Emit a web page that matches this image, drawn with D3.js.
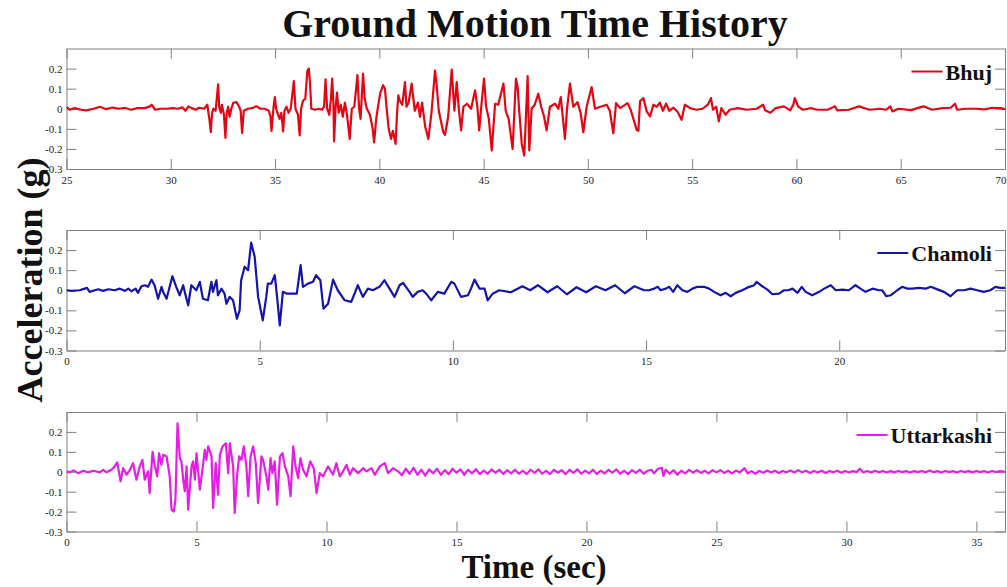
<!DOCTYPE html>
<html>
<head>
<meta charset="utf-8">
<script src="https://cdn.jsdelivr.net/npm/d3@7"></script>
<style>
  body { margin: 0; background: #fff; }
  svg text { font-family: "Liberation Serif", "Times New Roman", serif !important; }
</style>
</head>
<body>
<div id="chart"></div>
<script>
// ground motion records, [time (sec), acceleration (g)]
var bhuj = [
  [25.0,0.01],[25.15,-0.005],[25.4,0.003],[25.7,-0.005],[25.95,-0.008],[26.3,0.0],[26.6,0.01],[26.9,-0.002],
  [27.2,0.006],[27.5,0.0],[27.8,0.004],[28.1,-0.005],[28.4,0.003],[28.75,0.003],[29.0,0.012],[29.08,0.02],
  [29.25,-0.005],[29.5,0.0],[29.8,0.0],[30.1,0.003],[30.35,0.0],[30.55,0.007],[30.7,-0.01],[30.85,0.012],
  [31.0,0.003],[31.2,-0.005],[31.35,0.005],[31.6,0.0],[31.75,0.02],[31.85,-0.05],[31.92,-0.117],[31.98,-0.02],
  [32.05,0.0],[32.15,-0.01],[32.27,0.122],[32.32,0.01],[32.4,-0.02],[32.45,0.02],[32.55,-0.03],[32.62,-0.145],
  [32.68,-0.02],[32.75,0.01],[32.82,-0.04],[32.9,0.0],[33.0,0.03],[33.15,0.033],[33.28,0.01],[33.35,-0.01],
  [33.42,-0.12],[33.5,-0.01],[33.7,0.0],[33.9,0.003],[34.1,0.013],[34.3,0.0],[34.5,0.0],[34.7,-0.01],
  [34.78,-0.04],[34.83,-0.11],[34.92,0.0],[34.99,0.058],[35.05,0.0],[35.15,-0.03],[35.22,-0.05],[35.3,-0.02],
  [35.39,-0.113],[35.45,-0.01],[35.55,0.01],[35.65,-0.02],[35.75,0.0],[35.9,0.138],[35.98,0.0],[36.1,-0.03],
  [36.18,-0.133],[36.25,0.0],[36.34,0.04],[36.45,0.05],[36.55,0.19],[36.62,0.2],[36.68,0.12],[36.74,0.0],
  [36.9,-0.005],[37.1,0.0],[37.25,-0.005],[37.35,0.01],[37.42,0.147],[37.5,0.0],[37.6,-0.03],[37.68,0.05],
  [37.74,0.15],[37.8,0.02],[37.83,-0.163],[37.9,0.0],[37.97,0.08],[38.05,-0.02],[38.15,0.02],[38.25,-0.04],
  [38.35,0.03],[38.45,-0.03],[38.58,-0.15],[38.68,0.0],[38.8,0.01],[38.95,0.167],[39.03,0.0],[39.1,-0.05],
  [39.22,0.175],[39.3,0.05],[39.4,0.0],[39.55,-0.03],[39.68,-0.1],[39.75,-0.167],[39.85,-0.05],[39.95,0.02],
  [40.05,0.08],[40.18,0.117],[40.27,0.1],[40.35,0.0],[40.45,-0.1],[40.56,-0.15],[40.65,-0.11],[40.78,-0.175],
  [40.85,-0.02],[40.91,0.067],[40.98,0.04],[41.1,0.02],[41.23,0.133],[41.3,0.01],[41.4,0.03],[41.55,0.125],
  [41.7,-0.01],[41.85,0.03],[41.95,-0.04],[42.05,0.03],[42.2,-0.09],[42.35,-0.15],[42.5,-0.02],[42.67,0.19],
  [42.73,0.14],[42.85,-0.01],[42.95,-0.06],[43.07,-0.117],[43.15,-0.13],[43.3,-0.04],[43.47,0.195],[43.6,-0.01],
  [43.71,0.133],[43.82,-0.01],[43.92,-0.108],[44.03,0.01],[44.2,0.025],[44.4,0.0],[44.59,0.092],[44.7,0.01],
  [44.79,-0.108],[44.9,0.025],[45.02,0.15],[45.12,0.01],[45.25,-0.05],[45.39,-0.208],[45.55,0.025],[45.7,0.02],
  [45.95,0.125],[46.06,-0.01],[46.2,-0.05],[46.39,-0.2],[46.55,0.15],[46.63,0.11],[46.7,0.0],[46.83,-0.175],
  [46.95,-0.233],[47.11,0.162],[47.19,-0.208],[47.3,0.0],[47.45,0.02],[47.62,0.075],[47.76,0.01],[47.9,-0.04],
  [48.02,-0.108],[48.18,0.01],[48.42,0.025],[48.58,0.0],[48.7,0.058],[48.9,-0.15],[49.0,0.0],[49.14,0.125],
  [49.3,0.01],[49.5,0.033],[49.65,-0.02],[49.78,-0.117],[49.94,0.01],[50.18,0.108],[50.34,0.0],[50.6,0.01],
  [50.9,0.02],[51.05,-0.01],[51.22,-0.122],[51.35,0.028],[51.55,0.003],[51.9,0.028],[52.05,-0.005],[52.34,-0.105],
  [52.42,-0.11],[52.5,0.037],[52.66,0.053],[52.82,-0.013],[52.98,-0.038],[53.14,0.02],[53.3,0.01],[53.45,0.03],
  [53.6,-0.01],[53.75,0.025],[53.9,-0.01],[54.1,0.005],[54.3,-0.015],[54.49,-0.055],[54.65,0.02],[54.9,0.003],
  [55.2,-0.005],[55.5,0.0],[55.75,0.02],[55.9,0.053],[56.0,-0.005],[56.15,0.01],[56.28,-0.063],[56.4,0.003],
  [56.6,-0.03],[56.8,-0.005],[57.2,0.003],[57.6,-0.005],[58.1,0.0],[58.4,0.02],[58.5,-0.008],[58.75,-0.02],
  [59.0,0.003],[59.4,0.012],[59.7,-0.008],[59.85,0.02],[59.92,0.053],[60.08,0.012],[60.3,-0.005],[60.7,0.003],
  [61.0,-0.005],[61.5,-0.005],[61.85,0.012],[61.95,-0.008],[62.5,-0.005],[63.0,0.012],[63.5,-0.005],[64.0,0.0],
  [64.3,-0.005],[64.5,0.012],[64.6,-0.013],[64.9,0.0],[65.5,-0.007],[65.8,0.003],[66.1,0.012],[66.5,-0.005],
  [67.0,0.003],[67.4,0.005],[67.6,0.025],[67.7,-0.005],[68.1,0.0],[68.6,0.0],[69.0,-0.003],[69.4,0.005],
  [69.8,0.003],[70.0,-0.002]
];

var chamoli = [
  [0,0.0],[0.13,-0.003],[0.34,0.0],[0.47,0.008],[0.53,0.012],[0.6,-0.008],[0.73,0.0],[0.82,0.005],
  [0.95,-0.003],[1.08,0.005],[1.25,0.0],[1.38,0.008],[1.51,-0.003],[1.6,0.008],[1.68,-0.005],[1.79,0.008],
  [1.85,-0.013],[1.94,0.02],[2.03,0.025],[2.11,0.017],[2.2,0.053],[2.28,0.025],[2.37,-0.042],[2.46,0.017],
  [2.5,-0.008],[2.59,-0.042],[2.74,0.07],[2.84,0.017],[2.93,-0.025],[3.02,0.025],[3.06,-0.008],[3.15,-0.075],
  [3.23,0.025],[3.36,0.0],[3.45,0.042],[3.53,-0.042],[3.66,-0.05],[3.75,0.042],[3.79,-0.008],[3.88,0.05],
  [3.92,-0.025],[4.01,0.008],[4.09,-0.017],[4.14,-0.067],[4.22,-0.033],[4.31,-0.05],[4.41,-0.142],[4.48,-0.1],
  [4.52,0.05],[4.61,0.117],[4.7,0.1],[4.78,0.237],[4.87,0.167],[4.96,-0.033],[5.08,-0.15],[5.17,-0.033],
  [5.21,0.033],[5.3,0.033],[5.39,0.075],[5.45,-0.033],[5.52,-0.175],[5.6,-0.008],[5.71,-0.017],[5.86,-0.017],
  [5.96,-0.017],[6.06,0.125],[6.12,0.017],[6.25,0.033],[6.38,0.042],[6.46,0.075],[6.57,0.05],[6.65,-0.092],
  [6.77,-0.067],[6.9,0.053],[7.02,0.0],[7.2,-0.05],[7.37,-0.058],[7.54,0.025],[7.67,-0.033],[7.8,0.008],
  [7.93,0.0],[8.1,0.017],[8.23,0.05],[8.36,0.008],[8.49,-0.033],[8.62,0.025],[8.71,0.037],[8.88,-0.008],
  [8.96,-0.033],[9.09,-0.008],[9.22,0.0],[9.31,-0.017],[9.44,-0.05],[9.61,-0.008],[9.78,-0.017],[9.96,0.042],
  [10.04,0.033],[10.21,-0.033],[10.39,-0.025],[10.47,0.008],[10.56,0.053],[10.69,0.008],[10.82,0.008],[10.9,-0.05],
  [11.03,-0.017],[11.2,0.0],[11.5,-0.01],[11.8,0.02],[12.0,0.0],[12.2,0.025],[12.45,-0.01],[12.7,0.02],
  [12.95,-0.02],[13.2,0.015],[13.45,-0.01],[13.7,0.02],[13.95,0.0],[14.2,0.025],[14.45,-0.015],[14.7,0.02],
  [14.95,0.0],[15.08,0.0],[15.21,0.008],[15.3,0.017],[15.38,0.0],[15.51,0.008],[15.6,0.017],[15.7,-0.008],
  [15.81,0.025],[15.94,0.0],[16.07,-0.008],[16.2,0.008],[16.33,0.017],[16.5,0.017],[16.63,0.008],[16.76,-0.008],
  [16.93,-0.025],[17.06,-0.013],[17.19,-0.03],[17.32,-0.013],[17.49,0.0],[17.67,0.017],[17.8,0.025],[17.86,0.042],
  [17.97,0.025],[18.14,0.003],[18.27,-0.02],[18.44,-0.017],[18.57,0.0],[18.68,0.0],[18.79,0.008],[18.92,-0.013],
  [19.03,0.017],[19.13,-0.008],[19.3,-0.025],[19.48,-0.008],[19.61,0.008],[19.78,0.025],[19.91,0.0],[20.08,0.003],
  [20.25,0.0],[20.42,0.025],[20.55,0.008],[20.68,-0.008],[20.86,0.008],[21.03,0.0],[21.11,0.0],[21.22,-0.03],
  [21.33,-0.025],[21.5,0.0],[21.63,0.017],[21.76,0.008],[21.89,0.008],[22.06,0.012],[22.24,0.008],[22.37,0.017],
  [22.49,0.008],[22.71,-0.008],[22.88,-0.03],[23.05,0.0],[23.23,0.0],[23.4,0.008],[23.57,0.0],[23.74,-0.008],
  [23.91,0.0],[24.04,0.017],[24.17,0.012],[24.29,0.012]
];

var uttarkashi = [
  [0,0.002],[0.13,-0.003],[0.26,0.007],[0.45,-0.007],[0.64,0.005],[0.83,-0.003],[1.03,0.005],[1.28,-0.003],
  [1.41,0.01],[1.54,-0.003],[1.73,0.01],[1.86,0.027],[1.95,0.047],[2.08,-0.048],[2.18,0.018],[2.31,-0.015],
  [2.44,0.01],[2.56,0.043],[2.69,-0.04],[2.82,0.027],[2.92,0.06],[3.01,-0.04],[3.14,0.002],[3.2,-0.107],
  [3.31,0.1],[3.4,0.027],[3.49,-0.023],[3.56,0.093],[3.65,0.035],[3.72,0.085],[3.85,0.077],[3.97,-0.023],
  [4.04,-0.19],[4.13,-0.2],[4.19,-0.14],[4.27,0.243],[4.36,0.068],[4.42,0.052],[4.49,-0.04],[4.55,-0.098],
  [4.62,0.027],[4.68,-0.19],[4.81,0.027],[4.87,0.052],[4.94,-0.04],[5.0,0.093],[5.13,-0.09],[5.26,0.043],
  [5.32,0.11],[5.38,0.06],[5.45,0.127],[5.58,0.077],[5.64,-0.182],[5.74,0.043],[5.83,-0.115],[5.9,0.085],
  [6.0,0.127],[6.13,0.143],[6.22,-0.007],[6.28,0.143],[6.41,0.027],[6.47,-0.207],[6.56,-0.023],[6.64,0.077],
  [6.73,0.06],[6.82,0.127],[6.92,0.027],[6.99,-0.123],[7.08,0.077],[7.18,0.127],[7.28,0.043],[7.37,-0.157],
  [7.5,0.077],[7.56,0.06],[7.69,-0.023],[7.76,-0.09],[7.85,0.068],[7.92,-0.007],[8.01,0.052],[8.1,-0.165],
  [8.21,0.077],[8.31,0.093],[8.4,0.027],[8.53,-0.023],[8.62,-0.123],[8.72,0.127],[8.81,0.027],[8.91,-0.032],
  [9.0,0.068],[9.1,0.01],[9.23,-0.023],[9.38,0.052],[9.51,0.018],[9.62,-0.107],[9.74,-0.007],[9.87,-0.023],
  [10.06,0.027],[10.25,-0.015],[10.38,0.043],[10.51,-0.023],[10.64,0.002],[10.77,0.035],[10.9,-0.015],[11.02,0.018],
  [11.22,-0.007],[11.41,0.018],[11.54,0.002],[11.73,0.018],[11.86,-0.015],[12.05,0.027],[12.24,0.043],[12.37,-0.007],
  [12.56,0.018],[12.75,0.002],[12.9,-0.018],[13.05,0.015],[13.2,-0.01],[13.35,0.02],[13.5,-0.015],[13.65,0.01],
  [13.8,-0.02],[13.95,0.012],[14.1,-0.008],[14.25,0.015],[14.4,-0.015],[14.55,0.008],[14.7,-0.012],[14.85,0.015],
  [15.0,-0.005],[15.15,0.012],[15.3,-0.015],[15.45,0.01],[15.6,-0.008],[15.75,0.013],[15.9,-0.012],[16.05,0.006],
  [16.2,-0.01],[16.35,0.012],[16.5,-0.005],[16.65,0.01],[16.8,-0.012],[16.95,0.008],[17.1,-0.008],[17.25,0.01],
  [17.4,-0.01],[17.55,0.005],[17.7,-0.012],[17.85,0.01],[18.0,-0.006],[18.15,0.012],[18.3,-0.01],[18.45,0.005],
  [18.6,-0.012],[18.75,0.01],[18.9,-0.005],[19.05,0.008],[19.2,-0.012],[19.35,0.01],[19.5,-0.006],[19.65,0.012],
  [19.8,-0.01],[19.95,0.006],[20.1,-0.008],[20.25,0.01],[20.4,-0.012],[20.55,0.006],[20.7,-0.008],[20.85,0.01],
  [21.0,-0.005],[21.15,0.012],[21.3,-0.01],[21.45,0.005],[21.6,-0.012],[21.75,0.008],[21.9,-0.006],[22.05,0.01],
  [22.2,-0.01],[22.35,0.005],[22.5,0.01],[22.6,-0.008],[22.75,0.015],[22.9,0.02],[22.96,-0.02],[23.05,0.01],
  [23.2,-0.01],[23.35,0.008],[23.5,-0.015],[23.65,0.005],[23.8,-0.008],[23.95,0.01],[24.1,-0.005],[24.25,0.008],
  [24.4,-0.006],[24.55,0.005],[24.7,-0.008],[24.85,0.008],[25.0,-0.003],[25.15,0.008],[25.3,-0.006],[25.45,0.005],
  [25.6,-0.008],[25.75,0.006],[25.9,-0.004],[26.08,0.018],[26.2,-0.008],[26.35,0.003],[26.5,-0.01],[26.65,0.004],
  [26.8,-0.005],[26.95,0.006],[27.1,-0.004],[27.25,0.005],[27.4,-0.006],[27.55,0.004],[27.7,-0.003],[27.85,0.006],
  [28.0,-0.004],[28.15,0.008],[28.3,-0.003],[28.45,0.005],[28.6,-0.006],[28.75,0.004],[28.9,-0.004],[29.05,0.005],
  [29.2,-0.006],[29.35,0.004],[29.5,-0.003],[29.65,0.005],[29.8,-0.005],[29.95,0.004],[30.1,-0.004],[30.25,0.003],
  [30.4,-0.002],[30.51,0.015],[30.65,-0.004],[30.8,0.004],[30.95,-0.004],[31.1,0.005],[31.25,-0.003],[31.4,0.004],
  [31.55,-0.004],[31.7,0.003],[31.85,-0.003],[32.0,0.004],[32.15,-0.002],[32.3,0.003],[32.45,-0.004],[32.6,0.003],
  [32.75,-0.002],[32.9,0.004],[33.05,-0.003],[33.2,0.006],[33.35,-0.003],[33.5,0.003],[33.65,-0.004],[33.8,0.004],
  [33.95,-0.002],[34.1,0.003],[34.25,-0.004],[34.4,0.004],[34.55,-0.002],[34.7,0.003],[34.85,-0.003],[35.0,0.004],
  [35.15,-0.002],[35.3,0.003],[35.45,-0.004],[35.6,0.004],[35.75,-0.002],[35.9,0.003],[36.1,0.0]
];

// tick labels
var yTicks = [-0.3, -0.2, -0.1, 0, 0.1, 0.2];
var bhujTicks = [25, 30, 35, 40, 45, 50, 55, 60, 65, 70];
var chamoliTicks = [0, 5, 10, 15, 20];
var uttarkashiTicks = [0, 5, 10, 15, 20, 25, 30, 35];

var width = 1007, height = 587;
var left = 66.5, right = 1005;

var svg = d3.select("#chart")
  .append("svg")
    .attr("width", width)
    .attr("height", height);

var panels = [
  {name: "Bhuj", data: bhuj, domain: [25, 70], ticks: bhujTicks, color: "#e30613", top: 48.5, bottom: 169},
  {name: "Chamoli", data: chamoli, domain: [0, 24.29], ticks: chamoliTicks, color: "#1414ad", top: 230, bottom: 350.5},
  {name: "Uttarkashi", data: uttarkashi, domain: [0, 36.1], ticks: uttarkashiTicks, color: "#e51ee5", top: 412, bottom: 531.5}
];

panels.forEach(function(p, i) {
  var x = d3.scaleLinear().domain(p.domain).range([left, right]);
  var y = d3.scaleLinear().domain([-0.3, 0.3]).range([p.bottom, p.top]);
  var g = svg.append("g");

  // clip so the trace stays inside the box
  g.append("clipPath").attr("id", "clip" + i)
    .append("rect")
      .attr("x", left).attr("y", p.top)
      .attr("width", right - left).attr("height", p.bottom - p.top);

  // inward ticks on all four sides, labels only bottom/left
  var xb = g.append("g")
    .attr("class", "axis")
    .attr("transform", "translate(0," + p.bottom + ")")
    .call(d3.axisBottom(x).tickValues(p.ticks).tickSizeInner(-10).tickSizeOuter(0).tickPadding(7)
      .tickFormat(function(d) { return String(d); }));
  // a label sitting on the right edge would be cut, keep it inside the page
  xb.selectAll(".tick text")
    .filter(function(d) { return x(d) > width - 8; })
    .attr("text-anchor", "end")
    .attr("dx", width - 1 - right);
  g.append("g")
    .attr("class", "axis")
    .attr("transform", "translate(0," + p.top + ")")
    .call(d3.axisTop(x).tickValues(p.ticks).tickSizeInner(-10).tickSizeOuter(0).tickFormat(""));
  g.append("g")
    .attr("class", "axis")
    .attr("transform", "translate(" + left + ",0)")
    .call(d3.axisLeft(y).tickValues(yTicks).tickSizeInner(-10).tickSizeOuter(0).tickPadding(4)
      .tickFormat(function(d) { return String(d); }));
  g.append("g")
    .attr("class", "axis")
    .attr("transform", "translate(" + right + ",0)")
    .call(d3.axisRight(y).tickValues(yTicks).tickSizeInner(-10).tickSizeOuter(0).tickFormat(""));

  g.append("path")
    .datum(p.data)
    .attr("clip-path", "url(#clip" + i + ")")
    .attr("fill", "none")
    .attr("stroke", p.color)
    .attr("stroke-width", 2.2)
    .attr("stroke-linejoin", "round")
    .attr("d", d3.line()
      .x(function(d) { return x(d[0]); })
      .y(function(d) { return y(d[1]); }));

  // legend, right aligned
  var lt = g.append("text")
    .attr("x", 992)
    .attr("y", p.top + 31)
    .attr("text-anchor", "end")
    .attr("font-size", 22)
    .attr("font-weight", "bold")
    .attr("fill", "#111")
    .text(p.name);
  var tw = lt.node().getComputedTextLength();
  g.append("line")
    .attr("x1", 992 - tw - 34).attr("x2", 992 - tw - 3)
    .attr("y1", p.top + 23).attr("y2", p.top + 23)
    .attr("stroke", p.color)
    .attr("stroke-width", 2);
});

svg.selectAll(".axis path, .axis line")
  .attr("stroke", "#808080");
svg.selectAll(".axis text")
  .attr("font-size", 11)
  .attr("fill", "#222");

// titles
svg.append("text")
  .attr("x", 535).attr("y", 37)
  .attr("text-anchor", "middle")
  .attr("font-size", 40)
  .attr("font-weight", "bold")
  .attr("fill", "#111")
  .text("Ground Motion Time History");

svg.append("text")
  .attr("transform", "translate(42,280) rotate(-90)")
  .attr("text-anchor", "middle")
  .attr("font-size", 36)
  .attr("font-weight", "bold")
  .attr("fill", "#111")
  .text("Acceleration (g)");

svg.append("text")
  .attr("x", 534).attr("y", 578)
  .attr("text-anchor", "middle")
  .attr("font-size", 33)
  .attr("font-weight", "bold")
  .attr("fill", "#111")
  .text("Time (sec)");
</script>
</body>
</html>
